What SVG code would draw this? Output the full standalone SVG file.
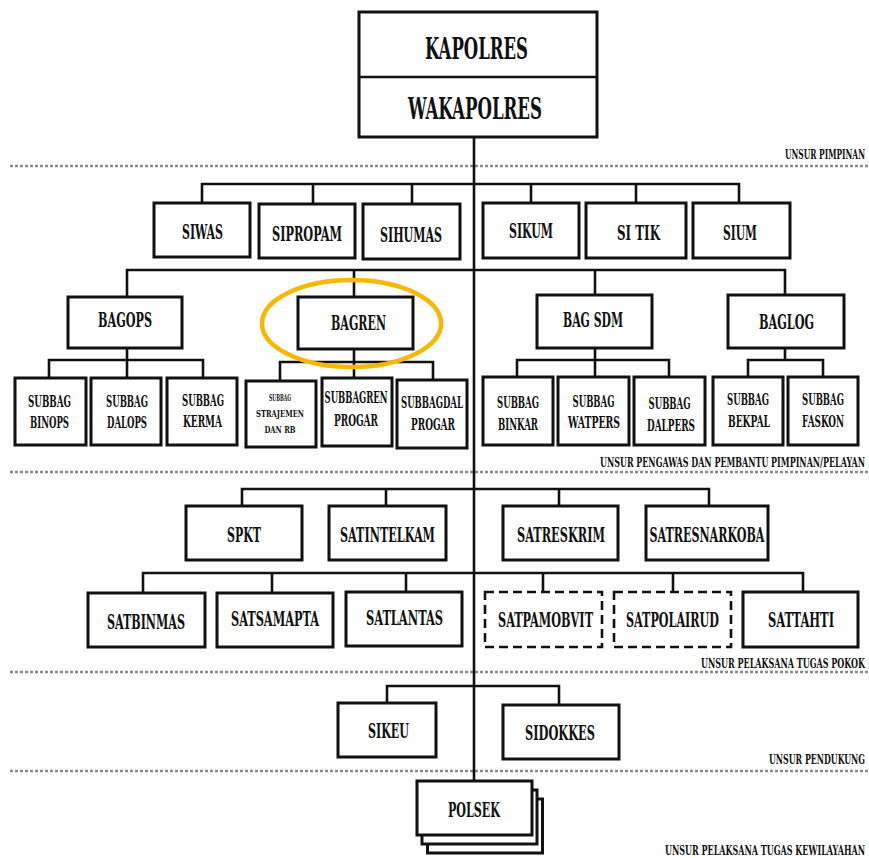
<svg xmlns="http://www.w3.org/2000/svg" width="869" height="858" viewBox="0 0 869 858">
<style>
.b{fill:#fff;stroke:#111;stroke-width:3}
.d{fill:#fff;stroke:#111;stroke-width:2.6;stroke-dasharray:9 5}
.c{fill:none;stroke:#111;stroke-width:2.6}
.sep{fill:none;stroke:#8a8a8a;stroke-width:2.6;stroke-dasharray:3 2}
text{font-family:"DejaVu Serif Condensed","DejaVu Serif","Liberation Serif",serif;font-stretch:condensed;font-weight:bold;fill:#111;text-anchor:middle}
.top{font-size:30px}
.m{font-size:20px}
.s{font-size:16px}
.xs{font-size:10px}
.l{font-size:13px;text-anchor:end}
</style>
<rect width="869" height="858" fill="#fff"/>
<g id="separators">
<line class="sep" x1="10" y1="166" x2="869" y2="166"/>
<line class="sep" x1="10" y1="472" x2="869" y2="472"/>
<line class="sep" x1="10" y1="672" x2="869" y2="672"/>
<line class="sep" x1="10" y1="771" x2="869" y2="771"/>
<text class="l" x="865" y="159" textLength="80" lengthAdjust="spacingAndGlyphs">UNSUR PIMPINAN</text>
<text class="l" x="865" y="467" textLength="265" lengthAdjust="spacingAndGlyphs">UNSUR PENGAWAS DAN PEMBANTU PIMPINAN/PELAYAN</text>
<text class="l" x="865" y="668" textLength="164" lengthAdjust="spacingAndGlyphs">UNSUR PELAKSANA TUGAS POKOK</text>
<text class="l" x="865" y="764" textLength="96" lengthAdjust="spacingAndGlyphs">UNSUR PENDUKUNG</text>
<text class="l" x="865" y="855" textLength="200" lengthAdjust="spacingAndGlyphs">UNSUR PELAKSANA TUGAS KEWILAYAHAN</text>
</g>
<g id="connectors">
<path class="c" d="M474 137V781"/>
<path class="c" d="M202 203V184H739V203M313 184V204M412 184V204M531 184V203M636 184V203"/>
<path class="c" d="M127 297V270H785V295M354 270V297M595 270V295"/>
<path class="c" d="M127 348V378M49 378V360H203V378"/>
<path class="c" d="M354 349V378M280 381V362H433V380"/>
<path class="c" d="M595 348V377M517 377V360H669V377"/>
<path class="c" d="M785 348V360M748 377V360H823V377"/>
<path class="c" d="M242 506V489H709V506M386 489V506M559 489V506"/>
<path class="c" d="M143 593V573H803V592M272 573V593M406 573V593M543 573V592M673 573V592"/>
<path class="c" d="M387 703V686H559V705"/>
</g>
<g id="kapolres">
<rect class="b" x="359" y="12" width="238" height="125"/>
<line class="c" x1="359" y1="77" x2="597" y2="77" stroke-width="3"/>
<text class="top" x="476.5" y="59" textLength="103" lengthAdjust="spacingAndGlyphs">KAPOLRES</text>
<text class="top" x="475" y="119" textLength="134" lengthAdjust="spacingAndGlyphs">WAKAPOLRES</text>
</g>
<g id="siwas"><rect class="b" x="154" y="203" width="96" height="54"/><text class="m" x="202.5" y="239" textLength="41" lengthAdjust="spacingAndGlyphs">SIWAS</text></g>
<g id="sipropam"><rect class="b" x="259" y="204" width="96" height="54"/><text class="m" x="307" y="241" textLength="70" lengthAdjust="spacingAndGlyphs">SIPROPAM</text></g>
<g id="sihumas"><rect class="b" x="363" y="204" width="97" height="55"/><text class="m" x="411" y="242" textLength="62" lengthAdjust="spacingAndGlyphs">SIHUMAS</text></g>
<g id="sikum"><rect class="b" x="483" y="203" width="96" height="55"/><text class="m" x="531" y="238" textLength="44" lengthAdjust="spacingAndGlyphs">SIKUM</text></g>
<g id="sitik"><rect class="b" x="586" y="203" width="100" height="55"/><text class="m" x="638.5" y="240" textLength="43" lengthAdjust="spacingAndGlyphs">SI TIK</text></g>
<g id="sium"><rect class="b" x="693" y="203" width="97" height="55"/><text class="m" x="740" y="240" textLength="34" lengthAdjust="spacingAndGlyphs">SIUM</text></g>
<g id="bagops"><rect class="b" x="68" y="297" width="114" height="51"/><text class="m" x="125" y="327" textLength="54" lengthAdjust="spacingAndGlyphs">BAGOPS</text></g>
<g id="bagren"><rect class="b" x="298" y="297" width="115" height="52"/><text class="m" x="358.5" y="330" textLength="55" lengthAdjust="spacingAndGlyphs">BAGREN</text>
<ellipse cx="351.5" cy="323.5" rx="89.5" ry="43.5" fill="none" stroke="#F6B800" stroke-width="4.5"/></g>
<g id="bagsdm"><rect class="b" x="537" y="295" width="115" height="53"/><text class="m" x="593" y="327" textLength="60" lengthAdjust="spacingAndGlyphs">BAG SDM</text></g>
<g id="baglog"><rect class="b" x="728" y="295" width="116" height="53"/><text class="m" x="786.5" y="329" textLength="55" lengthAdjust="spacingAndGlyphs">BAGLOG</text></g>
<g id="subbag-binops"><rect class="b" x="15" y="378" width="71" height="67"/><text class="s" x="49.5" y="407" textLength="43" lengthAdjust="spacingAndGlyphs">SUBBAG</text><text class="s" x="49.5" y="428" textLength="39" lengthAdjust="spacingAndGlyphs">BINOPS</text></g>
<g id="subbag-dalops"><rect class="b" x="91" y="378" width="70" height="67"/><text class="s" x="127" y="407" textLength="42" lengthAdjust="spacingAndGlyphs">SUBBAG</text><text class="s" x="127" y="428" textLength="40" lengthAdjust="spacingAndGlyphs">DALOPS</text></g>
<g id="subbag-kerma"><rect class="b" x="167" y="378" width="70" height="67"/><text class="s" x="203" y="406" textLength="42" lengthAdjust="spacingAndGlyphs">SUBBAG</text><text class="s" x="202.5" y="427" textLength="39" lengthAdjust="spacingAndGlyphs">KERMA</text></g>
<g id="subbag-strajemen"><rect class="b" x="246" y="381" width="70" height="66"/><text class="xs" x="280" y="401" textLength="22" lengthAdjust="spacingAndGlyphs">SUBBAG</text><text class="xs" x="280" y="417" textLength="48" lengthAdjust="spacingAndGlyphs">STRAJEMEN</text><text class="xs" x="280" y="433" textLength="31" lengthAdjust="spacingAndGlyphs">DAN RB</text></g>
<g id="subbagren-progar"><rect class="b" x="322" y="378" width="70" height="68"/><text class="s" x="356" y="403" textLength="63" lengthAdjust="spacingAndGlyphs">SUBBAGREN</text><text class="s" x="356" y="426" textLength="44" lengthAdjust="spacingAndGlyphs">PROGAR</text></g>
<g id="subbagdal-progar"><rect class="b" x="397" y="380" width="70" height="68"/><text class="s" x="432" y="408" textLength="62" lengthAdjust="spacingAndGlyphs">SUBBAGDAL</text><text class="s" x="433" y="430" textLength="44" lengthAdjust="spacingAndGlyphs">PROGAR</text></g>
<g id="subbag-binkar"><rect class="b" x="483" y="377" width="70" height="68"/><text class="s" x="518" y="408" textLength="42" lengthAdjust="spacingAndGlyphs">SUBBAG</text><text class="s" x="518" y="430" textLength="40" lengthAdjust="spacingAndGlyphs">BINKAR</text></g>
<g id="subbag-watpers"><rect class="b" x="558" y="377" width="71" height="68"/><text class="s" x="593.5" y="407" textLength="42" lengthAdjust="spacingAndGlyphs">SUBBAG</text><text class="s" x="594" y="428" textLength="52" lengthAdjust="spacingAndGlyphs">WATPERS</text></g>
<g id="subbag-dalpers"><rect class="b" x="634" y="377" width="71" height="68"/><text class="s" x="669.5" y="409" textLength="42" lengthAdjust="spacingAndGlyphs">SUBBAG</text><text class="s" x="671" y="431" textLength="48" lengthAdjust="spacingAndGlyphs">DALPERS</text></g>
<g id="subbag-bekpal"><rect class="b" x="713" y="377" width="70" height="68"/><text class="s" x="748" y="405" textLength="42" lengthAdjust="spacingAndGlyphs">SUBBAG</text><text class="s" x="749" y="427" textLength="42" lengthAdjust="spacingAndGlyphs">BEKPAL</text></g>
<g id="subbag-faskon"><rect class="b" x="788" y="377" width="70" height="68"/><text class="s" x="823" y="405" textLength="42" lengthAdjust="spacingAndGlyphs">SUBBAG</text><text class="s" x="823" y="427" textLength="42" lengthAdjust="spacingAndGlyphs">FASKON</text></g>
<g id="spkt"><rect class="b" x="186" y="506" width="116" height="54"/><text class="m" x="244" y="542" textLength="34" lengthAdjust="spacingAndGlyphs">SPKT</text></g>
<g id="satintelkam"><rect class="b" x="329" y="506" width="117" height="54"/><text class="m" x="387.5" y="542" textLength="95" lengthAdjust="spacingAndGlyphs">SATINTELKAM</text></g>
<g id="satreskrim"><rect class="b" x="503" y="506" width="115" height="54"/><text class="m" x="561" y="542" textLength="88" lengthAdjust="spacingAndGlyphs">SATRESKRIM</text></g>
<g id="satresnarkoba"><rect class="b" x="646" y="506" width="122" height="54"/><text class="m" x="707" y="542" textLength="115" lengthAdjust="spacingAndGlyphs">SATRESNARKOBA</text></g>
<g id="satbinmas"><rect class="b" x="88" y="593" width="117" height="54"/><text class="m" x="146" y="629" textLength="78" lengthAdjust="spacingAndGlyphs">SATBINMAS</text></g>
<g id="satsamapta"><rect class="b" x="217" y="593" width="116" height="54"/><text class="m" x="275" y="626" textLength="88" lengthAdjust="spacingAndGlyphs">SATSAMAPTA</text></g>
<g id="satlantas"><rect class="b" x="346" y="592" width="116" height="54"/><text class="m" x="404.5" y="625" textLength="77" lengthAdjust="spacingAndGlyphs">SATLANTAS</text></g>
<g id="satpamobvit"><rect class="d" x="485" y="592" width="117" height="55"/><text class="m" x="545.5" y="627" textLength="95" lengthAdjust="spacingAndGlyphs">SATPAMOBVIT</text></g>
<g id="satpolairud"><rect class="d" x="614" y="592" width="117" height="55"/><text class="m" x="672.5" y="627" textLength="93" lengthAdjust="spacingAndGlyphs">SATPOLAIRUD</text></g>
<g id="sattahti"><rect class="b" x="743" y="592" width="115" height="55"/><text class="m" x="801" y="627" textLength="66" lengthAdjust="spacingAndGlyphs">SATTAHTI</text></g>
<g id="sikeu"><rect class="b" x="338" y="703" width="98" height="54"/><text class="m" x="388.5" y="738" textLength="41" lengthAdjust="spacingAndGlyphs">SIKEU</text></g>
<g id="sidokkes"><rect class="b" x="503" y="705" width="116" height="54"/><text class="m" x="560" y="740" textLength="70" lengthAdjust="spacingAndGlyphs">SIDOKKES</text></g>
<g id="polsek">
<rect class="b" x="427.5" y="799" width="115" height="54"/>
<rect class="b" x="422" y="790" width="115" height="54"/>
<rect class="b" x="417" y="781" width="115" height="54"/>
<text class="m" x="474" y="817" textLength="52" lengthAdjust="spacingAndGlyphs">POLSEK</text>
</g>
</svg>
